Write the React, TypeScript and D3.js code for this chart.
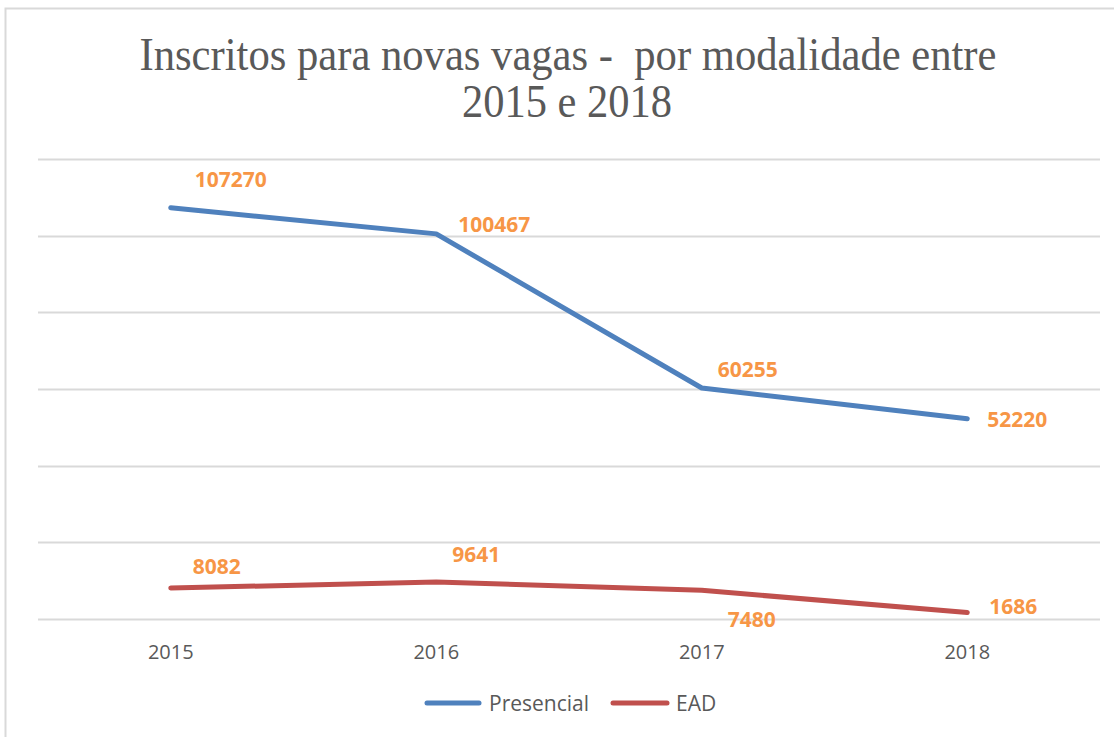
import React from "react";
import * as d3 from "d3";

const years = ["2015", "2016", "2017", "2018"];
const presencial = [107270, 100467, 60255, 52220];
const ead = [8082, 9641, 7480, 1686];
const yTicks = [0, 20000, 40000, 60000, 80000, 100000, 120000];
const titleLines = ["Inscritos para novas vagas -  por modalidade entre", "2015 e 2018"];

// label offsets (layout only)
const presOffsets = [[60, -28], [58, -9], [46, -19], [50, 1]];
const eadOffsets = [[46, -22], [40, -28], [50, 29], [46, -6]];

const W = 1114;
const H = 737;
const plot = { left: 38, right: 1100, top: 159, bottom: 619 };

export default function App() {
  const x = d3.scaleBand().domain(years).range([plot.left, plot.right]);
  const y = d3.scaleLinear().domain([0, 120000]).range([plot.bottom, plot.top]);
  const cx = (d: string) => (x(d) as number) + x.bandwidth() / 2;
  const line = d3
    .line<number>()
    .x((_, i) => cx(years[i]))
    .y((v) => y(v));

  const series = [
    { name: "Presencial", values: presencial, color: "#4f81bd", offsets: presOffsets },
    { name: "EAD", values: ead, color: "#c0504d", offsets: eadOffsets },
  ];

  const legend = [
    { name: "Presencial", color: "#4f81bd", x1: 427, x2: 479, tx: 489 },
    { name: "EAD", color: "#c0504d", x1: 613, x2: 667, tx: 676 },
  ];

  return (
    <div style={{ position: "absolute", left: 0, top: 0 }}>
      <svg width={W} height={H} style={{ display: "block", background: "#fff" }}>
        <rect x={5.5} y={8.5} width={W + 10} height={H + 10} fill="#fff" stroke="#d9d9d9" strokeWidth={2} />
        <text
          x={568}
          y={70}
          textAnchor="middle"
          fontFamily="'Liberation Serif', 'Times New Roman', serif"
          fontSize={46}
          fill="#595959"
          textLength={857}
          lengthAdjust="spacingAndGlyphs"
          style={{ whiteSpace: "pre" }}
        >
          {titleLines[0]}
        </text>
        <text
          x={567}
          y={117}
          textAnchor="middle"
          fontFamily="'Liberation Serif', 'Times New Roman', serif"
          fontSize={46}
          fill="#595959"
          textLength={210}
          lengthAdjust="spacingAndGlyphs"
        >
          {titleLines[1]}
        </text>
        {yTicks.map((t) => (
          <line
            key={t}
            x1={plot.left}
            x2={plot.right}
            y1={Math.round(y(t)) + 0.5}
            y2={Math.round(y(t)) + 0.5}
            stroke="#d9d9d9"
            strokeWidth={2}
          />
        ))}
        {years.map((yr) => (
          <text
            key={yr}
            x={cx(yr)}
            y={659}
            textAnchor="middle"
            fontFamily="'Open Sans', sans-serif"
            fontSize={20}
            fill="#595959"
          >
            {yr}
          </text>
        ))}
        {series.map((s) => (
          <path
            key={s.name}
            d={line(s.values) || ""}
            fill="none"
            stroke={s.color}
            strokeWidth={5}
            strokeLinecap="round"
            strokeLinejoin="round"
          />
        ))}
        {series.map((s) =>
          s.values.map((v, i) => (
            <text
              key={s.name + i}
              x={cx(years[i]) + s.offsets[i][0]}
              y={y(v) + s.offsets[i][1]}
              dy="0.36em"
              textAnchor="middle"
              fontFamily="'Open Sans', sans-serif"
              fontWeight="bold"
              fontSize={21}
              fill="#f79646"
            >
              {v}
            </text>
          ))
        )}
        {legend.map((l) => (
          <g key={l.name}>
            <line x1={l.x1} x2={l.x2} y1={703} y2={703} stroke={l.color} strokeWidth={5} strokeLinecap="round" />
            <text x={l.tx} y={711} fontFamily="'Open Sans', sans-serif" fontSize={21} fill="#595959">
              {l.name}
            </text>
          </g>
        ))}
      </svg>
    </div>
  );
}
